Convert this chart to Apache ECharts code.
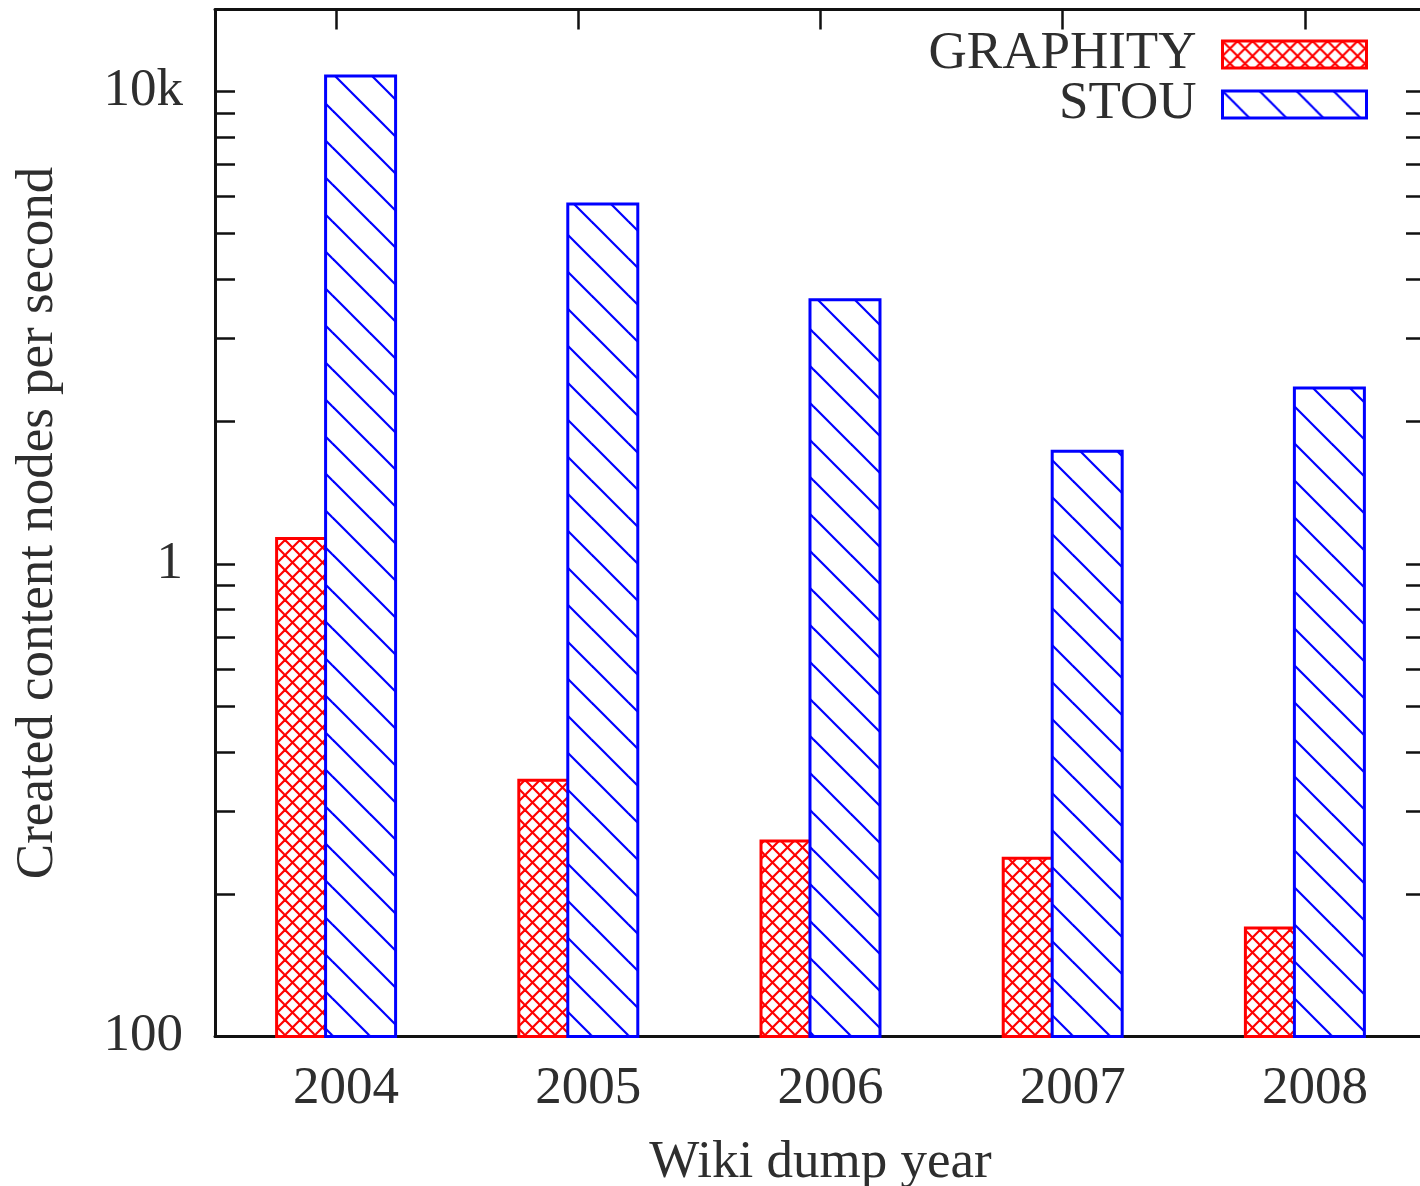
<!DOCTYPE html>
<html>
<head>
<meta charset="utf-8">
<script src="https://cdn.jsdelivr.net/npm/echarts@6/dist/echarts.min.js"></script>
<style>
html, body { margin: 0; padding: 0; background: #ffffff; }
#chart { width: 1420px; height: 1186px; }
</style>
</head>
<body>
<div id="chart"></div>
<script>
// ---- data ----
const years = ['2004', '2005', '2006', '2007', '2008'];
const graphity = [1140, 351, 261, 240, 171];
const stou = [10850, 5820, 3650, 1745, 2375];
const yTickValues = [100, 1000, 10000];
const yTickLabels = ['100', '1', '10k'];
const yAllTicks = [100, 200, 300, 400, 500, 600, 700, 800, 900,
                   1000, 2000, 3000, 4000, 5000, 6000, 7000, 8000, 9000, 10000];
const yMin = 100;
const yMax = 14900;

// ---- hatch patterns ----
function makeHatch(size, color, lw, cross) {
  const c = document.createElement('canvas');
  c.width = size; c.height = size;
  const g = c.getContext('2d');
  g.fillStyle = '#ffffff';
  g.fillRect(0, 0, size, size);
  g.strokeStyle = color;
  g.lineWidth = lw;
  for (const k of [-1, 0, 1]) {
    g.beginPath();
    g.moveTo(-2 + k * size, -2);
    g.lineTo(size + 2 + k * size, size + 2);
    g.stroke();
    if (cross) {
      g.beginPath();
      g.moveTo(-2 + k * size, size + 2);
      g.lineTo(size + 2 + k * size, -2);
      g.stroke();
    }
  }
  return c;
}
const redPattern = { image: makeHatch(15, '#ff0000', 2.2, true), repeat: 'repeat' };
const bluePattern = { image: makeHatch(37, '#0000ff', 2.2, false), repeat: 'repeat' };

const FONT = 'Liberation Serif';
const TXT = '#2e2e2e';
const AX = '#111111';
const FS = 53;

function yLabel(v) {
  for (let i = 0; i < yTickValues.length; i++) {
    if (Math.abs(v - yTickValues[i]) / yTickValues[i] < 1e-6) return yTickLabels[i];
  }
  return '';
}

const chart = echarts.init(document.getElementById('chart'), null, { renderer: 'canvas' });
chart.setOption({
  animation: false,
  backgroundColor: '#ffffff',
  grid: { left: 215, top: 9.5, width: 1211, height: 1027, containLabel: false, outerBoundsMode: 'none' },
  legend: {
    orient: 'vertical',
    right: 47,
    top: 23,
    align: 'right',
    icon: 'rect',
    itemWidth: 144,
    itemHeight: 27,
    itemGap: -3,
    itemStyle: { borderWidth: 3 },
    textStyle: { fontFamily: FONT, fontSize: FS, color: TXT, lineHeight: 47, padding: [0, 21, 0, 0] },
    data: ['GRAPHITY', 'STOU']
  },
  xAxis: [{
    type: 'category',
    data: years,
    position: 'bottom',
    axisLine: { show: true, lineStyle: { color: AX, width: 3 } },
    axisTick: { show: true, inside: true, alignWithLabel: true, length: 20, lineStyle: { color: AX, width: 2.5 } },
    axisLabel: { margin: 26, fontFamily: FONT, fontSize: FS, color: TXT, padding: [0, 0, 0, 20] },
    splitLine: { show: false },
    name: 'Wiki dump year',
    nameLocation: 'middle',
    nameGap: 100,
    nameTextStyle: { fontFamily: FONT, fontSize: FS, color: TXT }
  }, {
    type: 'category',
    data: years,
    position: 'top',
    axisLine: { show: true, lineStyle: { color: AX, width: 3 } },
    axisTick: { show: true, inside: true, alignWithLabel: true, length: 20, lineStyle: { color: AX, width: 2.5 } },
    axisLabel: { show: false },
    splitLine: { show: false }
  }],
  yAxis: [{
    type: 'log',
    logBase: 10,
    min: yMin,
    max: yMax,
    position: 'left',
    axisLine: { show: true, lineStyle: { color: AX, width: 3 } },
    axisTick: { show: true, inside: true, length: 20, customValues: yAllTicks, lineStyle: { color: AX, width: 2.5 } },
    axisLabel: { customValues: yTickValues, formatter: yLabel, margin: 32, fontFamily: FONT, fontSize: FS, color: TXT },
    splitLine: { show: false },
    minorTick: { show: false },
    name: 'Created content nodes per second',
    nameLocation: 'middle',
    nameGap: 150,
    nameTextStyle: { fontFamily: FONT, fontSize: FS, color: TXT }
  }, {
    type: 'log',
    logBase: 10,
    min: yMin,
    max: yMax,
    position: 'right',
    axisLine: { show: true, lineStyle: { color: AX, width: 3 } },
    axisTick: { show: true, inside: true, length: 20, customValues: yAllTicks, lineStyle: { color: AX, width: 2.5 } },
    axisLabel: { show: false },
    splitLine: { show: false }
  }],
  series: [{
    name: 'GRAPHITY',
    type: 'bar',
    xAxisIndex: 0,
    yAxisIndex: 0,
    data: graphity,
    barWidth: 73,
    barGap: '-32.9%',
    itemStyle: { color: redPattern, borderColor: '#ff0000', borderWidth: 3 }
  }, {
    name: 'STOU',
    type: 'bar',
    xAxisIndex: 0,
    yAxisIndex: 0,
    data: stou,
    barWidth: 73,
    barGap: '-32.9%',
    itemStyle: { color: bluePattern, borderColor: '#0000ff', borderWidth: 3 }
  }]
});
</script>
</body>
</html>
